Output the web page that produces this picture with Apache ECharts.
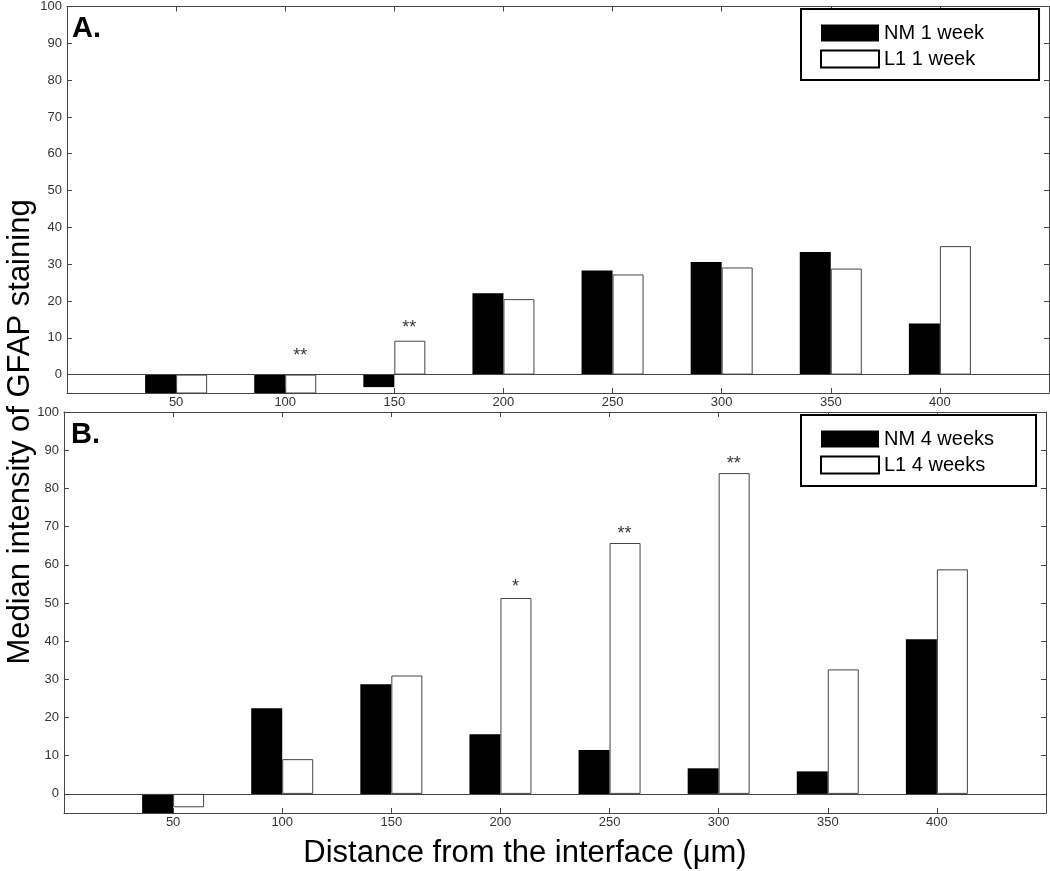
<!DOCTYPE html>
<html>
<head>
<meta charset="utf-8">
<script src="https://cdn.jsdelivr.net/npm/echarts@6/dist/echarts.min.js"></script>
<style>
html,body{margin:0;padding:0;background:#fff;}
#chart{width:1050px;height:871px;}
</style>
</head>
<body>
<div id="chart"></div>
<script>
// ---- data ----
const distances = [50, 100, 150, 200, 250, 300, 350, 400];
const xTicks = [50, 100, 150, 200, 250, 300, 350, 400];
const yTicks = [0, 10, 20, 30, 40, 50, 60, 70, 80, 90, 100];
const nm1 = [-6, -6, -3.4, 22.1, 28.3, 30.6, 33.3, 13.9];
const l11 = [-10, -10, 9.2, 20.5, 27.2, 29.1, 28.8, 34.9];
const nm4 = [-6, 22.4, 28.7, 15.6, 11.5, 6.7, 5.9, 40.5];
const l14 = [-3.5, 9.1, 31.0, 51.3, 65.7, 84.0, 32.6, 58.8];
const sig1X = [100, 150];
const sig1Y = [5.1, 12.7];
const sig1T = ['**', '**'];
const sig4X = [200, 250, 300];
const sig4Y = [54.1, 68.1, 86.5];
const sig4T = ['*', '**', '**'];
const seriesNames = ['NM 1 week', 'L1 1 week', 'NM 4 weeks', 'L1 4 weeks'];
const yTitle = 'Median intensity of GFAP staining';
const xTitle = 'Distance from the interface (\u03bcm)';
const panelLabels = ['A.', 'B.'];

const FONT = 'Liberation Sans, Arial, Helvetica, sans-serif';
const AX = '#444';

function pairs(xs, ys) { return xs.map((x, i) => [x, ys[i]]); }
function sigData(xs, ys, ts) { return xs.map((x, i) => [x, ys[i], ts[i]]); }

function xAx(grid, top) {
  return {
    type: 'value', gridIndex: grid, min: 0, max: 450,
    position: top ? 'top' : 'bottom',
    axisLine: { show: true, onZero: false, lineStyle: { color: AX, width: 1 } },
    axisTick: { show: true, inside: true, length: 5, lineStyle: { color: AX }, customValues: xTicks },
    axisLabel: { show: !top, customValues: xTicks, color: '#333', fontSize: 13, fontFamily: FONT, margin: 3 },
    splitLine: { show: false }
  };
}
function yAx(grid, right) {
  return {
    type: 'value', gridIndex: grid, min: -5, max: 100,
    position: right ? 'right' : 'left',
    axisLine: { show: true, onZero: false, lineStyle: { color: AX, width: 1 } },
    axisTick: { show: true, inside: true, length: 5, lineStyle: { color: AX }, customValues: yTicks },
    axisLabel: { show: !right, customValues: yTicks, color: '#333', fontSize: 13, fontFamily: FONT, margin: 5 },
    splitLine: { show: false }
  };
}
function baseLine() {
  return {
    silent: true, symbol: ['none', 'none'], animation: false,
    label: { show: false },
    lineStyle: { color: AX, width: 1, type: 'solid' },
    data: [{ yAxis: 0 }]
  };
}
function nmSeries(name, xi, yi, vals) {
  return {
    name: name, type: 'bar', xAxisIndex: xi, yAxisIndex: yi,
    data: pairs(distances, vals), barWidth: 31, barGap: '0%',
    itemStyle: { color: '#000' }, clip: true,
    markLine: baseLine()
  };
}
function l1Series(name, xi, yi, vals) {
  return {
    name: name, type: 'bar', xAxisIndex: xi, yAxisIndex: yi,
    data: pairs(distances, vals), barWidth: 31, barGap: '0%',
    itemStyle: { color: '#fff', borderColor: AX, borderWidth: 1 }, clip: true
  };
}
function sigSeries(xi, yi, data) {
  return {
    type: 'scatter', xAxisIndex: xi, yAxisIndex: yi, data: data,
    symbolSize: 1, itemStyle: { color: 'rgba(0,0,0,0)' }, silent: true,
    label: {
      show: true, position: 'inside', offset: [15, 0],
      formatter: p => p.value[2], color: '#000', fontSize: 18, fontFamily: FONT
    }
  };
}
function legendOf(names, top, padRight) {
  return {
    orient: 'vertical', left: 801, top: top,
    padding: [14, padRight, 11, 19],
    borderColor: '#000', borderWidth: 2, backgroundColor: '#fff',
    itemWidth: 58, itemHeight: 17, itemGap: 6,
    icon: 'rect',
    textStyle: { fontSize: 20, fontFamily: FONT, color: '#000' },
    data: [
      { name: names[0] },
      { name: names[1], itemStyle: { color: '#fff', borderColor: '#000', borderWidth: 2 } }
    ]
  };
}

const chart = echarts.init(document.getElementById('chart'), null, { renderer: 'canvas' });
chart.setOption({
  animation: false,
  backgroundColor: '#fff',
  grid: [
    { left: 67, top: 3, width: 982, height: 390 },
    { left: 64, top: 412, width: 982, height: 401 }
  ],
  xAxis: [xAx(0, false), xAx(0, true), xAx(1, false), xAx(1, true)],
  yAxis: [yAx(0, false), yAx(0, true), yAx(1, false), yAx(1, true)],
  legend: [
    legendOf([seriesNames[0], seriesNames[1]], 9, 55),
    legendOf([seriesNames[2], seriesNames[3]], 415, 42)
  ],
  series: [
    nmSeries(seriesNames[0], 0, 0, nm1),
    l1Series(seriesNames[1], 0, 0, l11),
    sigSeries(0, 0, sigData(sig1X, sig1Y, sig1T)),
    nmSeries(seriesNames[2], 2, 2, nm4),
    l1Series(seriesNames[3], 2, 2, l14),
    sigSeries(2, 2, sigData(sig4X, sig4Y, sig4T))
  ],
  graphic: [
    { type: 'text', x: 20, y: 432, rotation: Math.PI / 2,
      style: { text: yTitle, font: '31px ' + FONT, fill: '#000', textAlign: 'center', textVerticalAlign: 'middle' } },
    { type: 'text', x: 525, y: 853,
      style: { text: xTitle, font: '31px ' + FONT, fill: '#000', textAlign: 'center', textVerticalAlign: 'middle' } },
    { type: 'text', x: 72, y: 14,
      style: { text: panelLabels[0], font: 'bold 29px ' + FONT, fill: '#000', textAlign: 'left', textVerticalAlign: 'top' } },
    { type: 'text', x: 71, y: 420,
      style: { text: panelLabels[1], font: 'bold 29px ' + FONT, fill: '#000', textAlign: 'left', textVerticalAlign: 'top' } }
  ]
});
</script>
</body>
</html>
